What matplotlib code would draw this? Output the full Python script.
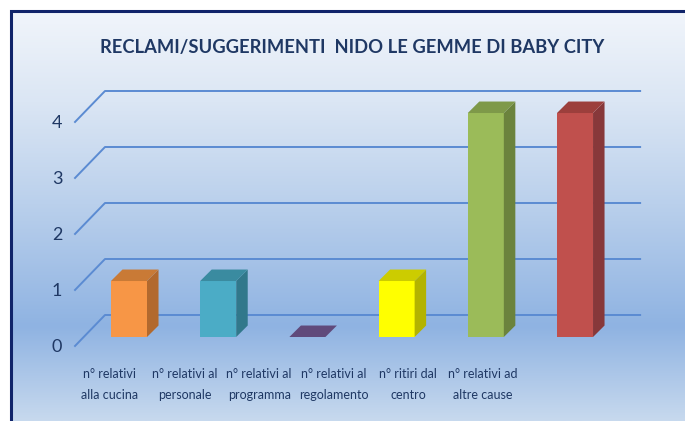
import numpy as np
import matplotlib.pyplot as plt
from matplotlib.patches import Polygon
from matplotlib.colors import LinearSegmentedColormap

# Data
categories = ["n° relativi\nalla cucina", "n° relativi al\npersonale", "n° relativi al\nprogramma",
              "n° relativi al\nregolamento", "n° ritiri dal\ncentro", "n° relativi ad\naltre cause"]
values = [1, 1, 0, 1, 4, 4]
front_colors = ["#f79646", "#4bacc6", "#604a7b", "#ffff00", "#9bbb59", "#c0504d"]
side_colors = ["#b2692e", "#31788b", "#463660", "#b3b300", "#6b833d", "#87383a"]
top_colors = ["#c97a36", "#3a8ba0", "#604a7b", "#cccc00", "#7e9949", "#9c3f3c"]
yticks = [0, 1, 2, 3, 4]
title = "RECLAMI/SUGGERIMENTI  NIDO LE GEMME DI BABY CITY"

navy = "#1f3864"
grid_c = "#5b8bd2"
FONT = ["Lato", "DejaVu Sans"]

W, H = 685, 421
fig = plt.figure(figsize=(W / 100, H / 100), dpi=100)

# background panel with vertical gradient and dark frame
bg = fig.add_axes([0, 0, 1, 1])
bg.set_xlim(0, W)
bg.set_ylim(H, 0)
bg.axis("off")
cmap = LinearSegmentedColormap.from_list("bg", [
    (0.0, "#f1f5fb"), (0.22, "#dbe6f4"), (0.47, "#bad0ec"),
    (0.77, "#8fb3e2"), (1.0, "#c7d9ee")])
grad = np.linspace(0, 1, 256).reshape(-1, 1)
bg.imshow(grad, cmap=cmap, extent=(11, W, H, 11), aspect="auto", zorder=0)
bg.plot([11, 11, W], [H, 11, 11], color="#10246a", lw=2.2, zorder=1,
        solid_joinstyle="miter")

# chart axes: x in category units, y in value units
ax = fig.add_axes([0, 0, 1, 1])
ax.patch.set_alpha(0)
ax.axis("off")
ax.set_xlim(-1.446, 6.233)
ax.set_ylim(-1.5, 6.018)

# 3D depth offsets
wall_dx, wall_dy = 0.336, 0.553
wall_x0, wall_x1 = -0.605, 5.73
bar_dx, bar_dy = 0.129, 0.205
bw = 0.404

for v in yticks:
    ax.plot([wall_x0, wall_x0 + wall_dx, wall_x1],
            [v - 0.16, v - 0.16 + wall_dy, v - 0.16 + wall_dy],
            color=grid_c, lw=1.4, zorder=1)
    ax.text(-0.807, v - 0.18, str(v), ha="center", va="center",
            fontsize=13, color=navy, family=FONT)

x = np.arange(len(values))
ax.bar(x, values, width=bw, color=front_colors, zorder=3)
for i, v in enumerate(values):
    l, r = x[i] - bw / 2, x[i] + bw / 2
    if v > 0:
        ax.add_patch(Polygon([(r, 0), (r + bar_dx, bar_dy), (r + bar_dx, v + bar_dy), (r, v)],
                             closed=True, fc=side_colors[i], ec="none", zorder=3))
    ax.add_patch(Polygon([(l, v), (r, v), (r + bar_dx, v + bar_dy), (l + bar_dx, v + bar_dy)],
                         closed=True, fc=top_colors[i], ec="none", zorder=3))

for i, lab in enumerate(categories):
    ax.text(-0.213 + 0.836 * i, -0.85, lab, ha="center", va="center",
            fontsize=9, color=navy, family=FONT, linespacing=1.95)

fig.text(352 / W, 1 - 47 / H, title, ha="center", va="center", fontsize=13.2,
         fontweight="bold", color=navy, family=FONT)

fig.savefig("out.png", dpi=100)
